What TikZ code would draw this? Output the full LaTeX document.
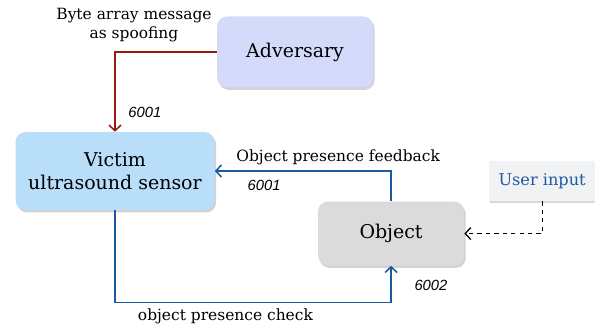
\documentclass[tikz,border=0pt]{standalone}
\usepackage{fontspec}
\setmainfont{DejaVu Serif}
\newfontfamily\numfont{Liberation Sans}
\usepackage{xcolor}
\usepackage{tikz}
\usetikzlibrary{arrows.meta,positioning,shadows}

\definecolor{advfill}{RGB}{212,218,250}
\definecolor{vicfill}{RGB}{185,222,250}
\definecolor{objfill}{RGB}{219,219,219}
\definecolor{usrfill}{RGB}{241,242,244}
\definecolor{spoofred}{RGB}{150,28,18}
\definecolor{linkblue}{RGB}{28,90,160}

\begin{document}
\begin{tikzpicture}[
        font=\fontsize{11}{13.5}\selectfont,
        >={Straight Barb[length=1.4mm, width=3mm]},
        block/.style={rectangle, rounded corners=0.25cm, text centered, align=center, font=\fontsize{13.5}{16.5}\selectfont,
            drop shadow={opacity=0.35, shadow xshift=0.04cm, shadow yshift=-0.06cm}},
        inbox/.style={rectangle, text centered, font=\fontsize{11.5}{14}\selectfont, text=linkblue,
            drop shadow={opacity=0.3, shadow xshift=0.04cm, shadow yshift=-0.05cm}},
        port/.style={font=\fontsize{10.5}{12}\numfont\itshape},
        spoof/.style={->, line width=1.1pt, draw=spoofred},
        link/.style={->, line width=1.1pt, draw=linkblue},
        arrow/.style={->, line width=0.9pt, dashed}
    ]
        \useasboundingbox (0,0) rectangle (14.875,-8.2);

        % Victim sensor
        \node[block, fill=vicfill, minimum width=4.975cm, minimum height=1.95cm] (victim) at (2.875,-4.275) {Victim\\ultrasound sensor};

        % Adversary
        \node[block, fill=advfill, minimum width=3.9cm, minimum height=1.775cm, above right=1.1cm and 0.05cm of victim] (adversary) {Adversary};

        % Object
        \node[block, fill=objfill, minimum width=3.65cm, minimum height=1.6cm, below right=-0.225cm and 2.575cm of victim] (object) {Object};

        % User input
        \node[inbox, fill=usrfill, minimum width=2.675cm, minimum height=1cm, above right=0cm and 0.6cm of object] (user) {User input};

        % Spoofing path
        \draw[spoof] (adversary.west) -| (victim.north)
            node[pos=0.5, anchor=south, xshift=0.475cm, yshift=0.12cm, align=center] {Byte array message\\as spoofing}
            node[port, pos=0.88, right=0.2cm] {6001};

        % Feedback path
        \draw[link] (object.north) |- (victim.east)
            node[pos=0.65, above=0.02cm] {Object presence feedback}
            node[port, pos=0.86, below=0.1cm] {6001};

        % Check path
        \draw[link] (victim.south) -- ++(0,-2.3) -| (object.south)
            node[pos=0.2, below=0.02cm] {object presence check}
            node[port, pos=0.73, right=0.45cm] {6002};

        % User input to object
        \draw[arrow] (user.south) |- (object.east);
    \end{tikzpicture}
\end{document}
